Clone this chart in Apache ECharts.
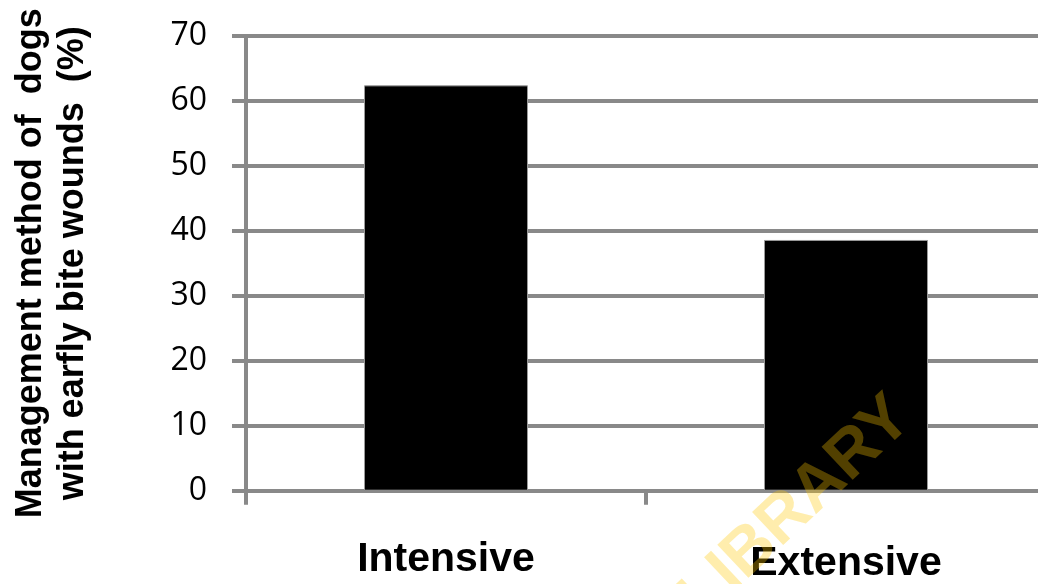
<!DOCTYPE html>
<html>
<head>
<meta charset="utf-8">
<script src="https://cdn.jsdelivr.net/npm/echarts@6/dist/echarts.min.js"></script>
<style>
html,body{margin:0;padding:0;background:#fff;}
#chart{width:1038px;height:584px;}
</style>
</head>
<body>
<div id="chart"></div>
<script>
const categories = ['Intensive', 'Extensive'];
const values = [62.4, 38.6];
const yTicks = [0, 10, 20, 30, 40, 50, 60, 70];
const yTitle = 'Management method of  dogs\nwith earfly bite wounds  (%)';
const watermark = 'LIBRARY';

const grey = '#898989';
const chart = echarts.init(document.getElementById('chart'), null, {renderer: 'canvas'});
chart.setOption({
  animation: false,
  backgroundColor: '#fff',
  grid: {left: 246, width: 800, top: 36, bottom: 93.3, containLabel: false, outerBoundsMode: 'none'},
  xAxis: {
    type: 'category',
    data: categories,
    axisLine: {lineStyle: {color: grey, width: 4}},
    axisTick: {show: true, length: 14, lineStyle: {color: grey, width: 4}},
    axisLabel: {
      margin: 48,
      fontFamily: 'Liberation Sans',
      fontWeight: 'bold',
      fontSize: 41,
      color: '#000',
      formatter: function (v, i) { return i === 1 ? '{b|' + v + '}' : '{a|' + v + '}'; },
      rich: {
        a: {fontFamily: 'Liberation Sans', fontWeight: 'bold', fontSize: 41, color: '#000'},
        b: {fontFamily: 'Liberation Sans', fontWeight: 'bold', fontSize: 41, color: '#000', padding: [4, 0, 0, 0]}
      }
    },
    splitLine: {show: false}
  },
  yAxis: {
    type: 'value',
    min: yTicks[0],
    max: yTicks[yTicks.length - 1],
    interval: 10,
    name: yTitle,
    nameLocation: 'middle',
    nameRotate: 90,
    nameGap: 152,
    nameTextStyle: {fontFamily: 'Liberation Sans', fontWeight: 'bold', fontSize: 36, lineHeight: 42, color: '#000', align: 'center'},
    axisLine: {show: true, lineStyle: {color: grey, width: 4}},
    axisTick: {show: true, length: 14, lineStyle: {color: grey, width: 4}},
    axisLabel: {margin: 39, fontFamily: 'Open Sans', fontSize: 32, color: '#000'},
    splitLine: {show: true, lineStyle: {color: grey, width: 4}}
  },
  series: [{
    type: 'bar',
    data: values,
    barWidth: '41%',
    itemStyle: {color: '#000', borderColor: '#9a9a9a', borderWidth: 1}
  }],
  graphic: [{
    type: 'text',
    x: 796,
    y: 508,
    rotation: 0.756,
    z: 100,
    silent: true,
    style: {
      text: watermark,
      fill: 'rgba(255,200,0,0.32)',
      fontFamily: 'Liberation Sans',
      fontWeight: 'bold',
      fontSize: 66,
      align: 'center',
      verticalAlign: 'middle',
      textAlign: 'center',
      textVerticalAlign: 'middle'
    }
  }]
});
</script>
</body>
</html>
